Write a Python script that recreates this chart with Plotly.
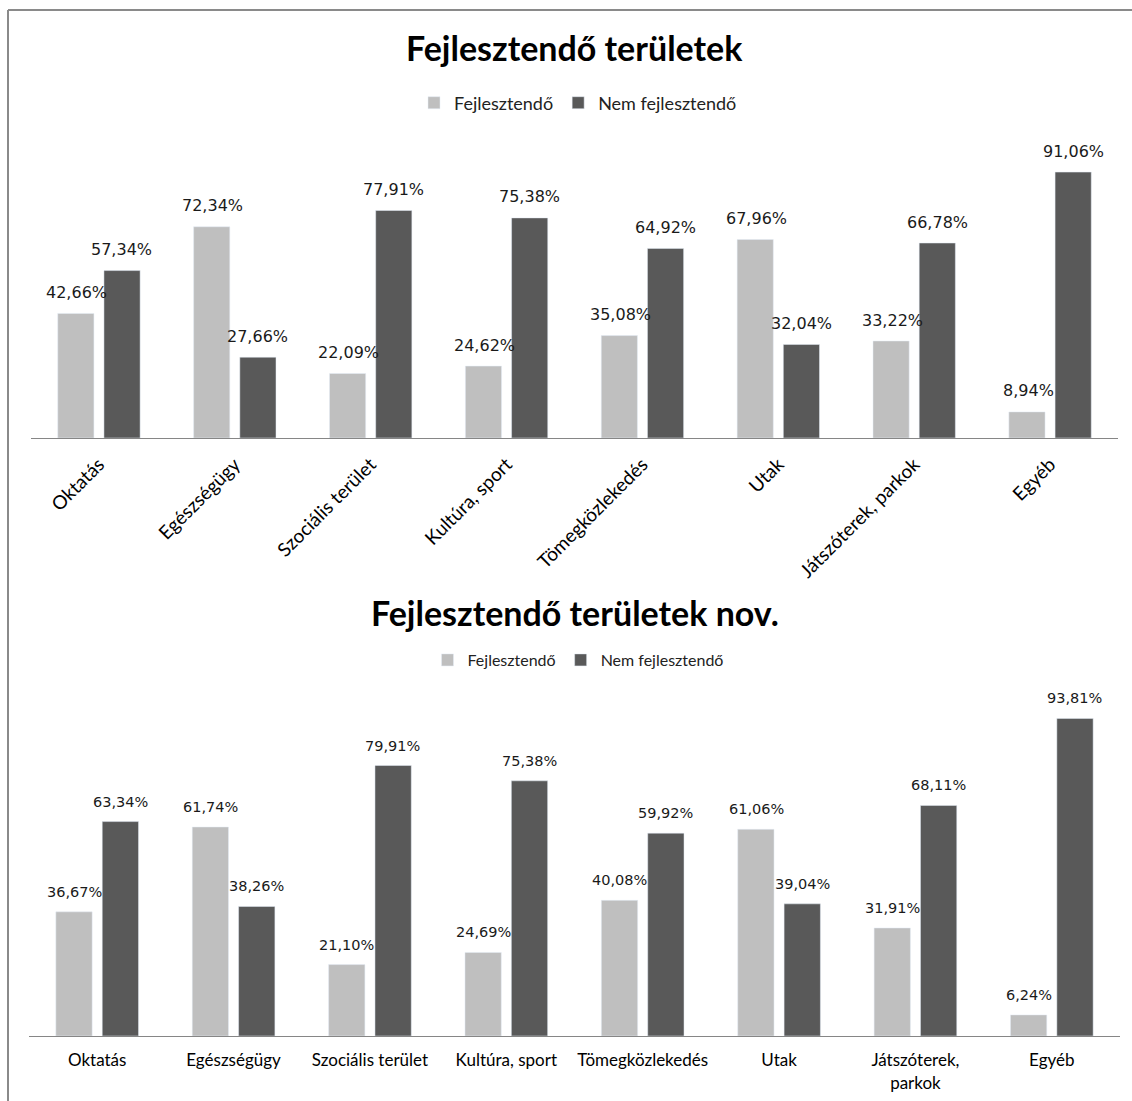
import plotly.graph_objects as go

categories = ["Oktatás", "Egészségügy", "Szociális terület", "Kultúra, sport",
              "Tömegközlekedés", "Utak", "Játszóterek, parkok", "Egyéb"]
categories_bottom = ["Oktatás", "Egészségügy", "Szociális terület", "Kultúra, sport",
                     "Tömegközlekedés", "Utak", "Játszóterek,<br>parkok", "Egyéb"]
series_names = ["Fejlesztendő", "Nem fejlesztendő"]

top_fejl = [42.66, 72.34, 22.09, 24.62, 35.08, 67.96, 33.22, 8.94]
top_nem = [57.34, 27.66, 77.91, 75.38, 64.92, 32.04, 66.78, 91.06]
bot_fejl = [36.67, 61.74, 21.10, 24.69, 40.08, 61.06, 31.91, 6.24]
bot_nem = [63.34, 38.26, 79.91, 75.38, 59.92, 39.04, 68.11, 93.81]

title_top = "Fejlesztendő területek"
title_bot = "Fejlesztendő területek nov."

W, H = 1132, 1101
LIGHT = "#BFBFBF"
DARK = "#595959"
AXIS = "#868686"


def px(x):
    return x / W


def py(y):
    return 1 - y / H


def fmt(v):
    return f"{v:.2f}".replace(".", ",") + "%"


fig = go.Figure()

fig.add_trace(go.Bar(x=categories, y=top_fejl, name=series_names[0], marker_color=LIGHT,
                     xaxis="x", yaxis="y", legend="legend", hoverinfo="skip"))
fig.add_trace(go.Bar(x=categories, y=top_nem, name=series_names[1], marker_color=DARK,
                     xaxis="x", yaxis="y", legend="legend", hoverinfo="skip"))
fig.add_trace(go.Bar(x=categories_bottom, y=bot_fejl, name=series_names[0], marker_color=LIGHT,
                     xaxis="x2", yaxis="y2", legend="legend2", hoverinfo="skip"))
fig.add_trace(go.Bar(x=categories_bottom, y=bot_nem, name=series_names[1], marker_color=DARK,
                     xaxis="x2", yaxis="y2", legend="legend2", hoverinfo="skip"))

annotations = []
label_font_top = dict(family="DejaVu Sans", size=16, color="#1a1a1a")
label_font_bot = dict(family="DejaVu Sans", size=14.5, color="#1a1a1a")
for cat, a, b in zip(categories, top_fejl, top_nem):
    annotations.append(dict(x=cat, y=a, xref="x", yref="y", text=fmt(a), showarrow=False,
                            xshift=-22, yshift=21, yanchor="middle", font=label_font_top))
    annotations.append(dict(x=cat, y=b, xref="x", yref="y", text=fmt(b), showarrow=False,
                            xshift=23, yshift=21, yanchor="middle", font=label_font_top))
for cat, a, b in zip(categories_bottom, bot_fejl, bot_nem):
    annotations.append(dict(x=cat, y=a, xref="x2", yref="y2", text=fmt(a), showarrow=False,
                            xshift=-23, yshift=20, yanchor="middle", font=label_font_bot))
    annotations.append(dict(x=cat, y=b, xref="x2", yref="y2", text=fmt(b), showarrow=False,
                            xshift=23, yshift=20, yanchor="middle", font=label_font_bot))

title_font = dict(family="Lato", size=34, color="#000000", weight="bold")
annotations.append(dict(x=px(575), y=py(48), xref="paper", yref="paper", text=title_top,
                        showarrow=False, xanchor="center", yanchor="middle", font=title_font))
annotations.append(dict(x=px(575), y=py(612), xref="paper", yref="paper", text=title_bot,
                        showarrow=False, xanchor="center", yanchor="middle", font=title_font))

shapes = [
    dict(type="line", xref="paper", yref="paper", x0=px(8), x1=px(1132), y0=py(10), y1=py(10),
         line=dict(color="#8a8a8a", width=2)),
    dict(type="line", xref="paper", yref="paper", x0=px(8), x1=px(8), y0=py(10), y1=py(1101),
         line=dict(color="#8a8a8a", width=2)),
]

fig.update_layout(
    width=W, height=H,
    margin=dict(l=0, r=0, t=0, b=0),
    paper_bgcolor="white", plot_bgcolor="white",
    barmode="group", bargap=0.32, bargroupgap=0.217,
    showlegend=True,
    legend=dict(orientation="h", x=px(578), y=py(103), xanchor="center", yanchor="middle",
                font=dict(family="Lato", size=18, color="#222222"), itemwidth=30,
                bgcolor="rgba(0,0,0,0)"),
    legend2=dict(orientation="h", x=px(578), y=py(660), xanchor="center", yanchor="middle",
                 font=dict(family="Lato", size=16, color="#222222"), itemwidth=30,
                 bgcolor="rgba(0,0,0,0)"),
    xaxis=dict(domain=[px(31), px(1118)], anchor="y", showline=True, linecolor=AXIS, linewidth=1,
               tickangle=-45, ticks="", showgrid=False, zeroline=False,
               tickfont=dict(family="Lato", size=19, color="#000000"), ticklabelstandoff=7),
    yaxis=dict(domain=[py(438), py(140)], anchor="x", range=[0, (438 - 140) / 2.92],
               visible=False, showgrid=False, zeroline=False),
    xaxis2=dict(domain=[px(29), px(1120)], anchor="y2", showline=True, linecolor=AXIS, linewidth=1,
                tickangle=0, ticks="", showgrid=False, zeroline=False,
                tickfont=dict(family="Lato", size=17, color="#000000"), ticklabelstandoff=9),
    yaxis2=dict(domain=[py(1036), py(690)], anchor="x2", range=[0, (1036 - 690) / 3.385],
                visible=False, showgrid=False, zeroline=False),
    annotations=annotations,
    shapes=shapes,
)

fig.write_html("out.html")
